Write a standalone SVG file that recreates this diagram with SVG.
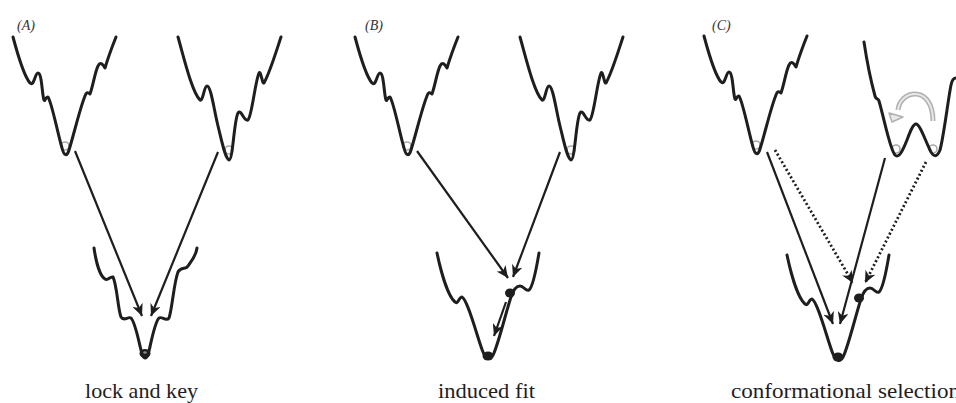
<svg xmlns="http://www.w3.org/2000/svg" width="956" height="403" viewBox="0 0 956 403">
<style>
.f{fill:none;stroke:#1e1e1e;stroke-width:3;stroke-linejoin:round;stroke-linecap:round}
.a{fill:none;stroke:#1e1e1e;stroke-width:2.2;marker-end:url(#ah)}
.d{fill:none;stroke:#1e1e1e;stroke-width:2.8;stroke-dasharray:2 2.4;marker-end:url(#ah)}
.g{fill:none;stroke:#aaaaaa;stroke-width:1.6}
.lbl{font-family:"Liberation Serif",serif;font-size:21px;fill:#1e1e1e}
.pl{font-family:"Liberation Serif",serif;font-size:14px;font-style:italic;fill:#333}
</style>
<defs>
<marker id="ah" markerUnits="userSpaceOnUse" markerWidth="14" markerHeight="11" refX="12" refY="5.5" orient="auto">
<path d="M0,0 L12,5.5 L0,11 L3.5,5.5 z" fill="#1e1e1e"/>
</marker>
<path id="tl" class="f" d="M13,37 C17,52 24,76 30,83 C34,87 35,73 38,73 C42,73 42,95 44,100 C45,102 46,96 48,97 C52,103 58,135 62,148 C64,156 67,157 69,150 C74,134 80,108 85,96 C86,92 88,92 90,94 C93,86 95,72 98,66 C100,62 102,63 105,68 C108,58 112,47 116,37"/>
<path id="tr" class="f" d="M178,37 C184,58 192,92 200,100 C203,102 204,86 207,86 C211,86 214,110 218,126 C222,142 225,158 229,160 C233,160 234,120 238,113 C241,108 244,122 248,120 C252,116 255,82 259,73 C261,70 262,84 264,83 C270,72 276,52 281,37"/>
<path id="bf" class="f" d="M437,253 C441,272 448,296 455,302 C458,305 459,297 462,297 C468,300 478,340 483,352 C486,360 491,361 494,353 C500,338 506,312 511,297 C513,291 516,286 520,286 C524,286 526,292 529,290 C533,287 537,265 539,253"/>
</defs>

<g id="panelA">
<text class="pl" x="17" y="30">(A)</text>
<g id="A-free-left"><circle class="g" cx="65" cy="146" r="4"/><use href="#tl"/></g>
<g id="A-free-right"><circle class="g" cx="229" cy="150" r="4"/><use href="#tr"/></g>
<g id="A-bound">
<path class="f" d="M94,248 C96,262 100,276 105,279 C108,281 110,276 113,277 C117,285 118,310 121,317 C124,322 128,316 131,318 C135,322 138,338 141,350 C143,360 147,361 149,351 C152,338 155,322 159,318 C162,316 166,322 169,318 C172,310 174,282 178,272 C181,266 186,270 188,266 C192,260 196,256 197,248"/>
<ellipse cx="145" cy="353.5" rx="5.5" ry="4.5" fill="#1e1e1e"/>
<ellipse cx="145" cy="352.5" rx="1.8" ry="1.3" fill="#888"/>
</g>
<text class="lbl" x="85" y="398" textLength="113" lengthAdjust="spacingAndGlyphs">lock and key</text>
</g>

<g id="panelB">
<text class="pl" x="365" y="30">(B)</text>
<g id="B-free-left"><circle class="g" cx="407" cy="146" r="4"/><use href="#tl" transform="translate(342,0)"/></g>
<g id="B-free-right"><circle class="g" cx="571" cy="150" r="4"/><use href="#tr" transform="translate(342,0)"/></g>
<g id="B-bound">
<use href="#bf"/>
<ellipse cx="510" cy="293" rx="5" ry="4.5" fill="#1e1e1e"/>
<ellipse cx="488" cy="356" rx="5.5" ry="4.5" fill="#1e1e1e"/>
</g>
<text class="lbl" x="438" y="398" textLength="97" lengthAdjust="spacingAndGlyphs">induced fit</text>
</g>

<g id="panelC">
<text class="pl" x="712" y="30">(C)</text>
<g id="C-free-left"><circle class="g" cx="756" cy="145" r="4"/><use href="#tl" transform="translate(691,-1)"/></g>
<g id="C-free-right">
<circle class="g" cx="896" cy="149" r="4"/>
<circle class="g" cx="933" cy="149" r="4"/>
<path class="f" d="M864,42 C867,62 872,85 875,96 C876,100 878,98 879,101 C884,118 890,150 895,155 C899,159 903,150 907,140 C910,132 913,124 916,124 C920,124 925,140 930,150 C933,157 937,158 940,150 C944,135 948,100 951,85 C952,80 954,78 956,78"/>
<path d="M933,121 C933,102 924,94 915,94 C906,94 899,101 898,110" fill="none" stroke="#b0b0b0" stroke-width="5" stroke-linecap="butt"/>
<path d="M933,121 C933,102 924,94 915,94 C906,94 899,101 898,110" fill="none" stroke="#e8e8e8" stroke-width="2"/>
<path d="M889,113 L892,122 L903,117 z" fill="#e8e8e8" stroke="#b0b0b0" stroke-width="1.5" stroke-linejoin="round"/>
</g>
<g id="C-bound">
<use href="#bf" transform="translate(350,2)"/>
<ellipse cx="859" cy="298" rx="5" ry="4.5" fill="#1e1e1e"/>
<ellipse cx="838" cy="357" rx="5.5" ry="4.5" fill="#1e1e1e"/>
</g>
<text class="lbl" x="731" y="398" textLength="229" lengthAdjust="spacingAndGlyphs">conformational selection</text>
</g>

<g id="connectors">
<path class="a" d="M75,151 L142,316"/>
<path class="a" d="M218,152 L151,316"/>
<path class="a" d="M417,151 L508,278"/>
<path class="a" d="M560,152 L513,277"/>
<path class="a" d="M506,302 L494,336"/>
<path class="a" d="M767,152 L833,324"/>
<path class="a" d="M885,158 L840,324"/>
<path class="d" d="M775,150 L853,283"/>
<path class="d" d="M926,162 L865,283"/>
</g>
</svg>
